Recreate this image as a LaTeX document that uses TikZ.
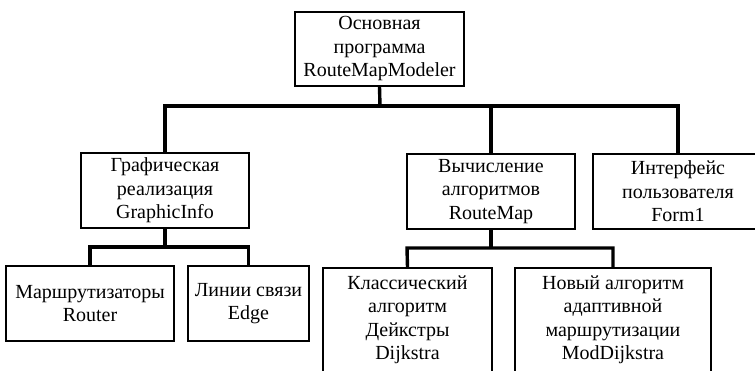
\documentclass[tikz,border=0pt]{standalone}
\usepackage{fontspec}
\setmainfont{Liberation Serif}
\begin{document}
\begin{tikzpicture}[x=1pt,y=-1pt,
  box/.style={draw, line width=1.6pt, inner sep=0pt, align=center,
    font=\fontsize{20}{23.5}\selectfont, minimum height=75pt},
  conn/.style={line width=3.4pt}]
\useasboundingbox (0,0) rectangle (755,370);
\node[box, minimum width=169pt, minimum height=74pt] (top) at (379.5,49) {Основная\\программа\\RouteMapModeler};
\node[box, minimum width=168pt] (gr) at (165,190.5) {Графическая\\реализация\\GraphicInfo};
\node[box, minimum width=168pt] (rm) at (491,191.5) {Вычисление\\алгоритмов\\RouteMap};
\node[box, minimum width=170pt] (ui) at (678,191.5) {Интерфейс\\пользователя\\Form1};
\node[box, minimum width=168pt] (rt) at (90,303.5) {Маршрутизаторы\\Router};
\node[box, minimum width=121pt] (ed) at (248.5,303.5) {Линии связи\\Edge};
\node[box, minimum width=169pt, minimum height=104pt] (cl) at (407.5,320) {Классический\\алгоритм\\Дейкстры\\Dijkstra};
\node[box, minimum width=196pt, minimum height=104pt] (nw) at (613,320) {Новый алгоритм\\адаптивной\\маршрутизации\\ModDijkstra};
\coordinate (j1) at (380,106);
\coordinate (j2) at (165,247);
\coordinate (j3) at (491,248);
\draw[conn] (top.south) -- (j1);
\draw[conn] (gr.north) -- (gr.north |- j1) -- (ui.north |- j1) -- (ui.north);
\draw[conn] (rm.north) -- (rm.north |- j1);
\draw[conn] (gr.south) -- (j2);
\draw[conn] (rt.north) -- (rt.north |- j2) -- (ed.north |- j2) -- (ed.north);
\draw[conn] (rm.south) -- (j3);
\draw[conn] (cl.north) -- ([xshift=-0.5pt]cl.north |- j3) -- (nw.north |- j3) -- (nw.north);
\end{tikzpicture}
\end{document}
